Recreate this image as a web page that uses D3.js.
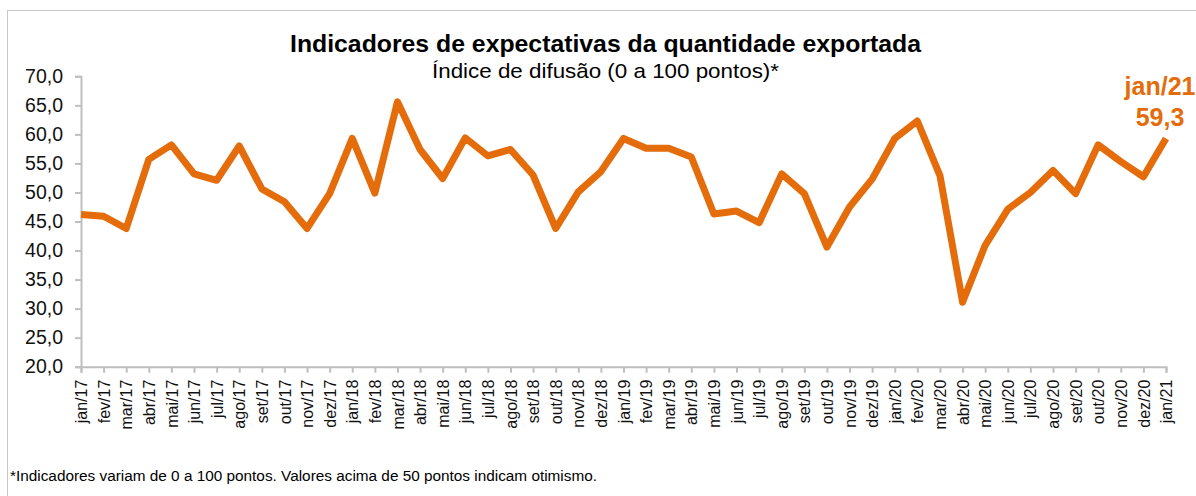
<!DOCTYPE html>
<html>
<head>
<meta charset="utf-8">
<script src="https://cdn.jsdelivr.net/npm/d3@7"></script>
<style>
  body { margin: 0; background: #fff; }
  svg { display: block; font-family: "Liberation Sans", Arial, sans-serif; }
</style>
</head>
<body>
<svg id="chart" width="1196" height="496"></svg>
<script>
const months = [
  "jan/17", "fev/17", "mar/17", "abr/17", "mai/17", "jun/17", "jul/17", "ago/17", "set/17", "out/17", "nov/17", "dez/17",
  "jan/18", "fev/18", "mar/18", "abr/18", "mai/18", "jun/18", "jul/18", "ago/18", "set/18", "out/18", "nov/18", "dez/18",
  "jan/19", "fev/19", "mar/19", "abr/19", "mai/19", "jun/19", "jul/19", "ago/19", "set/19", "out/19", "nov/19", "dez/19",
  "jan/20", "fev/20", "mar/20", "abr/20", "mai/20", "jun/20", "jul/20", "ago/20", "set/20", "out/20", "nov/20", "dez/20",
  "jan/21",
];

// valores
const values = [
  46.2, 45.9, 43.8, 55.7, 58.2, 53.2, 52.1, 58.0, 50.6, 48.4, 43.8, 49.8,
  59.3, 49.9, 65.6, 57.4, 52.4, 59.4, 56.3, 57.4, 53.0, 43.8, 50.1, 53.6,
  59.3, 57.6, 57.6, 56.1, 46.3, 46.8, 44.8, 53.2, 49.8, 40.6, 47.5, 52.3,
  59.3, 62.3, 52.9, 31.1, 40.9, 47.1, 50.0, 53.8, 49.8, 58.2, 55.3, 52.7,
  59.3,
];

const yTicks = [20, 25, 30, 35, 40, 45, 50, 55, 60, 65, 70];

const title = "Indicadores de expectativas da quantidade exportada";
const subtitle = "Índice de difusão (0 a 100 pontos)*";
const footnote = "*Indicadores variam de 0 a 100 pontos. Valores acima de 50 pontos indicam otimismo.";

const orange = "#e46c0a";
const axisGray = "#bfbfbf";

const svg = d3.select("#chart");
const fmt = (v) => d3.format(".1f")(v).replace(".", ",");

// moldura
svg.append("rect")
  .attr("x", 7.5).attr("y", 10.5)
  .attr("width", 1200).attr("height", 500)
  .attr("fill", "none")
  .attr("stroke", "#c8c8c8");

const x = d3.scalePoint().domain(months).range([81, 1166]);
const y = d3.scaleLinear().domain([20, 70]).range([366.7, 76.3]);

// eixo Y
const yAxis = svg.append("g")
  .attr("transform", "translate(81,0)")
  .call(d3.axisLeft(y).tickValues(yTicks).tickFormat(fmt).tickSizeOuter(0).tickSize(6).tickPadding(12));
yAxis.select(".domain").attr("stroke", axisGray).attr("stroke-width", 2);
yAxis.selectAll(".tick line").attr("stroke", axisGray).attr("stroke-width", 2);
yAxis.selectAll(".tick text")
  .attr("font-size", 19.5)
  .attr("font-family", "Liberation Sans, Arial, sans-serif")
  .attr("fill", "#111");

// eixo X
const xAxis = svg.append("g")
  .attr("transform", `translate(0,${y(20)})`)
  .call(d3.axisBottom(x).tickSizeOuter(0).tickSize(6));
xAxis.select(".domain").attr("stroke", axisGray).attr("stroke-width", 2);
xAxis.selectAll(".tick line").attr("stroke", axisGray).attr("stroke-width", 2);
xAxis.selectAll(".tick text")
  .attr("font-size", 16)
  .attr("font-family", "Liberation Sans, Arial, sans-serif")
  .attr("fill", "#111")
  .attr("text-anchor", "end")
  .attr("transform", "rotate(-90)")
  .attr("x", -13)
  .attr("y", 0)
  .attr("dy", "0.35em");

// linha
const line = d3.line()
  .x((d, i) => x(months[i]))
  .y((d) => y(d));

svg.append("path")
  .datum(values)
  .attr("fill", "none")
  .attr("stroke", orange)
  .attr("stroke-width", 7)
  .attr("stroke-linejoin", "round")
  .attr("d", line);

// rótulo do último ponto
const lastIdx = values.length - 1;
const lab = svg.append("g")
  .attr("fill", orange)
  .attr("font-weight", "bold")
  .attr("font-size", 25)
  .attr("text-anchor", "middle");
lab.append("text")
  .attr("x", x(months[lastIdx]) - 6)
  .attr("y", 95)
  .text(months[lastIdx]);
lab.append("text")
  .attr("x", x(months[lastIdx]) - 6)
  .attr("y", 126)
  .text(fmt(values[lastIdx]));

// títulos
svg.append("text")
  .attr("x", 290).attr("y", 52)
  .attr("font-weight", "bold")
  .attr("font-size", 24)
  .attr("textLength", 631)
  .attr("lengthAdjust", "spacingAndGlyphs")
  .text(title);

svg.append("text")
  .attr("x", 432).attr("y", 78)
  .attr("font-size", 21)
  .attr("textLength", 347)
  .attr("lengthAdjust", "spacingAndGlyphs")
  .text(subtitle);

// nota de rodapé
svg.append("text")
  .attr("x", 10).attr("y", 481)
  .attr("font-size", 14)
  .attr("textLength", 587)
  .attr("lengthAdjust", "spacingAndGlyphs")
  .text(footnote);
</script>
</body>
</html>
